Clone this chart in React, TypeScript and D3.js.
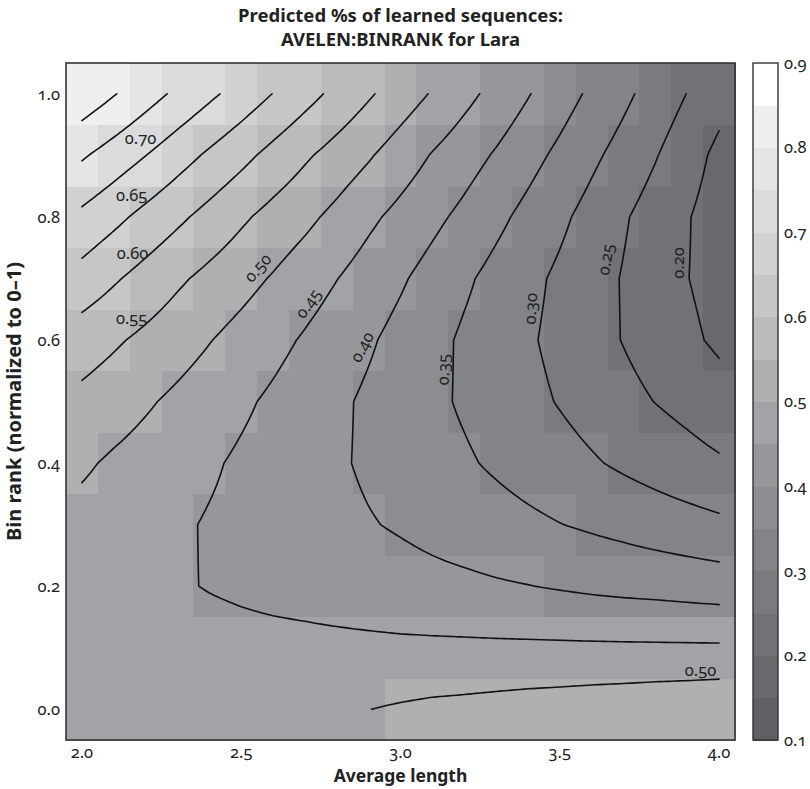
import React from "react";
import * as d3 from "d3";

// ---------- data ----------
const xValues = [2.0, 2.1, 2.2, 2.3, 2.4, 2.5, 2.6, 2.7, 2.8, 2.9, 3.0, 3.1, 3.2, 3.3, 3.4, 3.5, 3.6, 3.7, 3.8, 3.9, 4.0];
const yValues = [0.0, 0.1, 0.2, 0.3, 0.4, 0.5, 0.6, 0.7, 0.8, 0.9, 1.0];

// predicted proportion at (x, y); one row per y value, bottom (0.0) to top (1.0)
const row00 = [0.470, 0.472, 0.474, 0.476, 0.478, 0.481, 0.484, 0.488, 0.493, 0.4995, 0.505, 0.510, 0.513, 0.517, 0.521, 0.524, 0.528, 0.531, 0.535, 0.538, 0.542];
const row01 = [0.474, 0.472, 0.470, 0.468, 0.466, 0.464, 0.463, 0.462, 0.461, 0.460, 0.459, 0.4587, 0.4584, 0.458, 0.4577, 0.4574, 0.457, 0.4567, 0.4564, 0.4562, 0.456];
const row02 = [0.478, 0.470, 0.462, 0.454, 0.448, 0.443, 0.438, 0.434, 0.429, 0.424, 0.419, 0.414, 0.410, 0.405, 0.401, 0.396, 0.391, 0.387, 0.384, 0.380, 0.376];
const row03 = [0.485, 0.476, 0.466, 0.456, 0.4465, 0.438, 0.429, 0.421, 0.412, 0.403, 0.395, 0.386, 0.377, 0.369, 0.360, 0.351, 0.343, 0.335, 0.326, 0.318, 0.310];
const row04 = [0.507, 0.493, 0.481, 0.468, 0.456, 0.443, 0.431, 0.418, 0.406, 0.393, 0.381, 0.368, 0.356, 0.343, 0.330, 0.318, 0.305, 0.292, 0.280, 0.268, 0.256];
const row05 = [0.537, 0.522, 0.506, 0.490, 0.474, 0.458, 0.442, 0.425, 0.409, 0.392, 0.376, 0.360, 0.344, 0.329, 0.313, 0.297, 0.281, 0.265, 0.249, 0.235, 0.219];
const row06 = [0.575, 0.557, 0.539, 0.521, 0.502, 0.483, 0.464, 0.445, 0.425, 0.406, 0.385, 0.364, 0.343, 0.325, 0.306, 0.287, 0.268, 0.248, 0.228, 0.209, 0.192];
const row07 = [0.631, 0.606, 0.582, 0.558, 0.537, 0.517, 0.496, 0.473, 0.451, 0.428, 0.406, 0.382, 0.358, 0.335, 0.313, 0.291, 0.269, 0.247, 0.224, 0.201, 0.184];
const row08 = [0.689, 0.663, 0.636, 0.610, 0.584, 0.558, 0.534, 0.512, 0.487, 0.460, 0.436, 0.412, 0.388, 0.362, 0.336, 0.310, 0.283, 0.255, 0.229, 0.203, 0.178];
const row09 = [0.756, 0.728, 0.7005, 0.671, 0.642, 0.614, 0.585, 0.557, 0.531, 0.505, 0.476, 0.447, 0.421, 0.395, 0.367, 0.339, 0.310, 0.282, 0.253, 0.221, 0.188];
const row10 = [0.834, 0.803, 0.771, 0.740, 0.710, 0.680, 0.649, 0.618, 0.587, 0.556, 0.526, 0.496, 0.465, 0.434, 0.403, 0.372, 0.341, 0.311, 0.280, 0.249, 0.218];
const zRows = [row00, row01, row02, row03, row04, row05, row06, row07, row08, row09, row10];

const contourLevels = [0.2, 0.25, 0.3, 0.35, 0.4, 0.45, 0.5, 0.55, 0.6, 0.65, 0.7, 0.75, 0.8];
const colorBreaks = [0.1, 0.15, 0.2, 0.25, 0.3, 0.35, 0.4, 0.45, 0.5, 0.55, 0.6, 0.65, 0.7, 0.75, 0.8, 0.85, 0.9];
const colorbarTicks = [0.1, 0.2, 0.3, 0.4, 0.5, 0.6, 0.7, 0.8, 0.9];
const xTicks = [2.0, 2.5, 3.0, 3.5, 4.0];
const yTicks = [0.0, 0.2, 0.4, 0.6, 0.8, 1.0];

const labelText = ["0.70", "0.65", "0.60", "0.55", "0.50", "0.45", "0.40", "0.35", "0.30", "0.25", "0.20", "0.50"];
const labelX = [2.184, 2.156, 2.159, 2.156, 2.550, 2.708, 2.877, 3.132, 3.406, 3.642, 3.871, 3.942];
const labelY = [0.929, 0.836, 0.742, 0.636, 0.718, 0.660, 0.589, 0.552, 0.651, 0.731, 0.725, 0.065];
const labelAngle = [0, 0, 0, 0, -49, -55, -62, -88, -87, -80, -90, 0];

const title1 = "Predicted %s of learned sequences:";
const title2 = "AVELEN:BINRANK for Lara";
const xTitle = "Average length";
const yTitle = "Bin rank (normalized to 0\u20131)";

// ---------- style ----------
const bandColors = [
  "#5f6063", "#68696c", "#717275", "#7a7b7e", "#838487", "#8c8d90", "#96979a", "#a2a3a6",
  "#afb0b2", "#babbbd", "#c5c6c8", "#d0d1d2", "#dadbdc", "#e4e5e5", "#efefef", "#ffffff",
];
const W = 810, H = 789;
const L = 66, R = 735, T = 63, B = 740;
const CB = { x0: 753, x1: 778 };
const FONT = "'Noto Sans', 'Open Sans', sans-serif";

const xScale = d3.scaleLinear().domain([1.95, 4.05]).range([L, R]);
const yScale = d3.scaleLinear().domain([-0.05, 1.05]).range([B, T]);
const cbScale = d3.scaleLinear().domain([0.1, 0.9]).range([B, T]);
const colorScale = d3.scaleThreshold<number, string>().domain(colorBreaks.slice(1, -1)).range(bandColors);

// fine grid for smooth contour rendering (bilinear between read values)
const K = 8;
function buildFine() {
  const nx = xValues.length, ny = yValues.length;
  const N = (nx - 1) * K + 1, M = (ny - 1) * K + 1;
  const arr = new Float64Array(N * M);
  for (let r = 0; r < M; r++) {
    const fy = r / K; const j0 = Math.min(Math.floor(fy), ny - 2); const ty = fy - j0;
    for (let c = 0; c < N; c++) {
      const fx = c / K; const i0 = Math.min(Math.floor(fx), nx - 2); const tx = fx - i0;
      const v00 = zRows[j0][i0], v10 = zRows[j0][i0 + 1], v01 = zRows[j0 + 1][i0], v11 = zRows[j0 + 1][i0 + 1];
      arr[r * N + c] = (1 - ty) * ((1 - tx) * v00 + tx * v10) + ty * ((1 - tx) * v01 + tx * v11);
    }
  }
  return { arr, N, M };
}

function contourLines() {
  const { arr, N, M } = buildFine();
  const dx = (xValues[1] - xValues[0]) / K;
  const dy = (yValues[1] - yValues[0]) / K;
  const geoms = d3.contours().size([N, M]).smooth(true).thresholds(contourLevels)(Array.from(arr));
  const isB = (p: number[]) => p[0] <= 0 || p[0] >= N || p[1] <= 0 || p[1] >= M;
  const toPx = (p: number[]): [number, number] => {
    const xd = Math.max(xValues[0], Math.min(xValues[xValues.length - 1], xValues[0] + (p[0] - 0.5) * dx));
    const yd = Math.max(yValues[0], Math.min(yValues[yValues.length - 1], yValues[0] + (p[1] - 0.5) * dy));
    return [xScale(xd), yScale(yd)];
  };
  const out: { value: number; pts: [number, number][] }[] = [];
  geoms.forEach((g) => {
    g.coordinates.forEach((poly) => {
      poly.forEach((ring) => {
        const pts = ring.slice(0, -1);
        const n = pts.length;
        const start = pts.findIndex(isB);
        if (start < 0) {
          out.push({ value: g.value, pts: pts.concat([pts[0]]).map(toPx) });
          return;
        }
        let cur: number[][] = [];
        for (let k = 1; k <= n; k++) {
          const p = pts[(start + k) % n];
          if (isB(p)) {
            if (cur.length > 1) out.push({ value: g.value, pts: cur.map(toPx) });
            cur = [];
          } else cur.push(p);
        }
        if (cur.length > 1) out.push({ value: g.value, pts: cur.map(toPx) });
      });
    });
  });
  return out;
}

export default function App() {
  const lines = contourLines();
  const lineGen = d3.line<[number, number]>().x((d) => d[0]).y((d) => d[1]);
  const cellW = xValues[1] - xValues[0];
  const cellH = yValues[1] - yValues[0];
  const numStyle: React.CSSProperties = { fontVariantNumeric: "oldstyle-nums" };

  return (
    <svg width={W} height={H} style={{ position: "absolute", left: 0, top: 0, background: "#fff" }} fontFamily={FONT}>
      <defs>
        <clipPath id="plotclip">
          <rect x={L} y={T} width={R - L} height={B - T} />
        </clipPath>
      </defs>
      <rect x={0} y={0} width={W} height={H} fill="#fff" />
      {/* heat cells */}
      <g shapeRendering="crispEdges">
        {zRows.map((row, j) =>
          row.map((v, i) => {
            const x0 = xScale(xValues[i] - cellW / 2), x1 = xScale(xValues[i] + cellW / 2);
            const y0 = yScale(yValues[j] + cellH / 2), y1 = yScale(yValues[j] - cellH / 2);
            return <rect key={`c${i}-${j}`} x={x0} y={y0} width={x1 - x0 + 0.5} height={y1 - y0 + 0.5} fill={colorScale(v)} />;
          })
        )}
      </g>
      {/* contour lines */}
      <g clipPath="url(#plotclip)" fill="none" stroke="#111" strokeWidth={1.6} strokeLinejoin="round" strokeLinecap="round">
        {lines.map((l, k) => (
          <path key={`l${k}`} d={lineGen(l.pts) || ""} />
        ))}
      </g>
      {/* contour labels */}
      <g fontSize={16.5} fill="#222" style={numStyle}>
        {labelText.map((t, k) => (
          <text key={`lab${k}`} x={0} y={0} textAnchor="middle" dominantBaseline="central"
            transform={`translate(${xScale(labelX[k])},${yScale(labelY[k])}) rotate(${labelAngle[k]})`}>{t}</text>
        ))}
      </g>
      {/* frame */}
      <rect x={L} y={T} width={R - L} height={B - T} fill="none" stroke="#333" strokeWidth={1.6} />
      {/* x ticks */}
      <g fontSize={16.5} fill="#222" textAnchor="middle" style={numStyle}>
        {xTicks.map((t) => (
          <text key={`xt${t}`} x={xScale(t)} y={B + 18}>{t.toFixed(1)}</text>
        ))}
      </g>
      {/* y ticks */}
      <g fontSize={16.5} fill="#222" textAnchor="end" style={numStyle}>
        {yTicks.map((t) => (
          <text key={`yt${t}`} x={L - 6} y={yScale(t)} dy="0.35em">{t.toFixed(1)}</text>
        ))}
      </g>
      {/* colorbar */}
      <g shapeRendering="crispEdges">
        {bandColors.map((c, k) => (
          <rect key={`cb${k}`} x={CB.x0} y={cbScale(colorBreaks[k + 1])} width={CB.x1 - CB.x0}
            height={cbScale(colorBreaks[k]) - cbScale(colorBreaks[k + 1]) + 0.5} fill={c} />
        ))}
      </g>
      <rect x={CB.x0} y={T} width={CB.x1 - CB.x0} height={B - T} fill="none" stroke="#333" strokeWidth={1.4} />
      <g fontSize={16.5} fill="#222" style={numStyle}>
        {colorbarTicks.map((t) => (
          <text key={`cbt${t}`} x={CB.x1 + 6} y={cbScale(t)} dy="0.35em">{t.toFixed(1)}</text>
        ))}
      </g>
      {/* titles */}
      <g fontWeight={700} fill="#222" textAnchor="middle">
        <text x={(L + R) / 2} y={22} fontSize={18.5}>{title1}</text>
        <text x={(L + R) / 2} y={46} fontSize={18.5}>{title2}</text>
        <text x={(L + R) / 2} y={782} fontSize={17.5}>{xTitle}</text>
        <text transform={`translate(21,${(T + B) / 2}) rotate(-90)`} fontSize={20}>{yTitle}</text>
      </g>
    </svg>
  );
}
